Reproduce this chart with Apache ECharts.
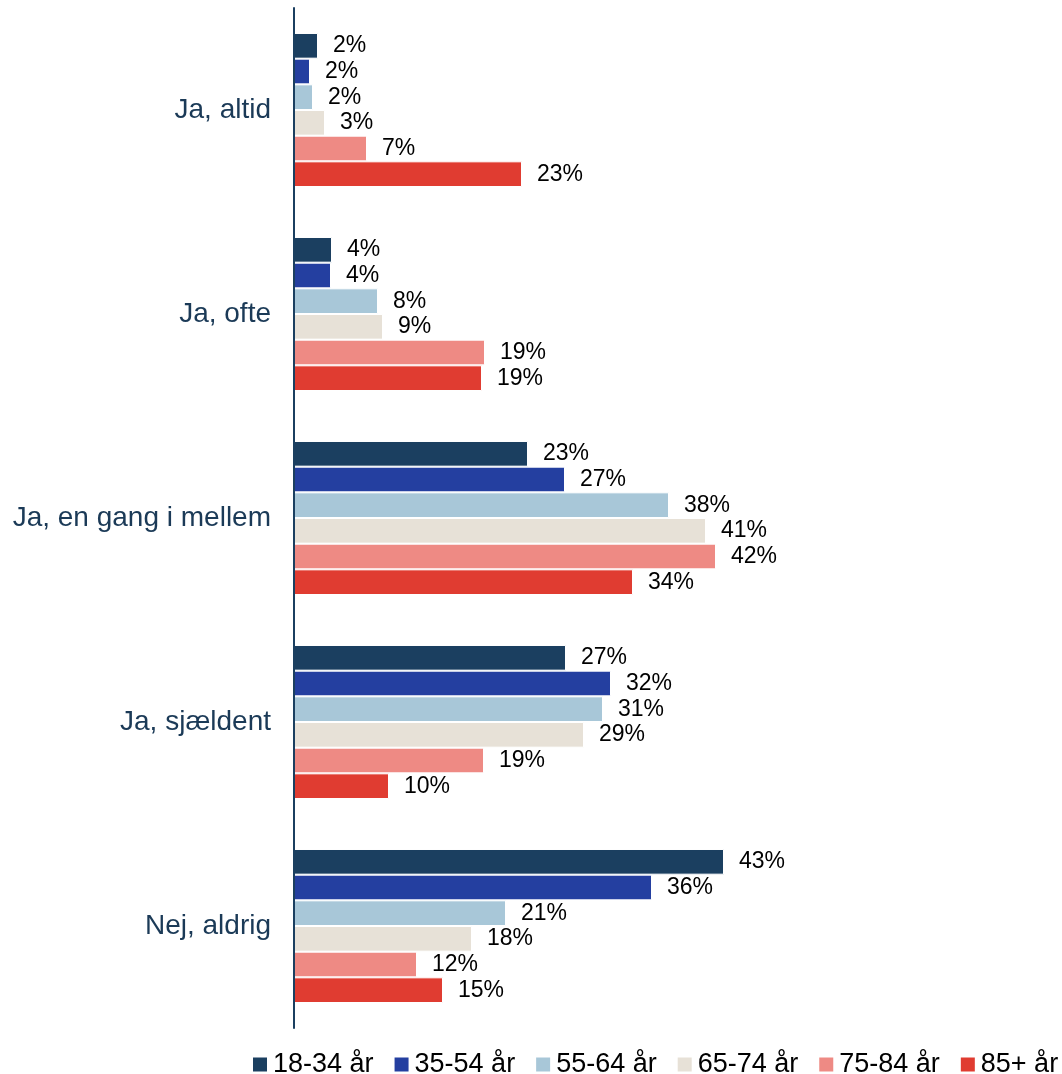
<!DOCTYPE html>
<html>
<head>
<meta charset="utf-8">
<script src="https://cdn.jsdelivr.net/npm/echarts@6/dist/echarts.min.js"></script>
<style>
html,body{margin:0;padding:0;background:#fff;}
#c{width:1062px;height:1074px;}
</style>
</head>
<body>
<div id="c"></div>
<script>
const categories = ['Ja, altid', 'Ja, ofte', 'Ja, en gang i mellem', 'Ja, sjældent', 'Nej, aldrig'];
const seriesNames = ['18-34 år', '35-54 år', '55-64 år', '65-74 år', '75-84 år', '85+ år'];
const colors = ['#1B3F60', '#243FA0', '#A8C7D8', '#E7E1D7', '#EE8A84', '#E03C31'];
const v18_34 = [2.4, 3.8, 23.4, 27.2, 43.0];
const v35_54 = [1.6, 3.7, 27.1, 31.7, 35.8];
const v55_64 = [1.9, 8.4, 37.5, 30.9, 21.2];
const v65_74 = [3.1, 8.9, 41.2, 29.0, 17.8];
const v75_84 = [7.3, 19.1, 42.2, 19.0, 12.3];
const v85 = [22.8, 18.8, 33.9, 9.5, 14.9];
const allValues = [v18_34, v35_54, v55_64, v65_74, v75_84, v85];

const FONT = '"Liberation Sans", Arial, sans-serif';
const chart = echarts.init(document.getElementById('c'));
chart.setOption({
  animation: false,
  backgroundColor: '#fff',
  textStyle: { fontFamily: FONT },
  grid: { left: 294, top: 8, right: 68, height: 1020 },
  xAxis: {
    type: 'value', min: 0, max: 70,
    axisLine: { show: false }, axisTick: { show: false },
    axisLabel: { show: false }, splitLine: { show: false }
  },
  yAxis: {
    type: 'category', data: categories, inverse: true, z: 10,
    axisLine: { show: true, lineStyle: { color: '#1B3F60', width: 2 } },
    axisTick: { show: false },
    axisLabel: { fontSize: 28, color: '#1B3A57', margin: 23, fontFamily: FONT }
  },
  legend: {
    data: seriesNames, left: 246, top: 1046, width: 840,
    itemWidth: 16, itemHeight: 16, itemGap: 19, icon: 'rect',
    textStyle: { fontSize: 27, color: '#000', fontFamily: FONT }
  },
  series: seriesNames.map((n, i) => ({
    name: n, type: 'bar', data: allValues[i],
    barGap: '0%', barCategoryGap: '24.5%',
    itemStyle: { color: colors[i], borderColor: '#fff', borderWidth: 1 },
    label: {
      show: true, position: 'right', distance: 15,
      fontSize: 23, color: '#000', fontFamily: FONT,
      formatter: p => Math.round(p.value) + '%'
    }
  }))
});
</script>
</body>
</html>
